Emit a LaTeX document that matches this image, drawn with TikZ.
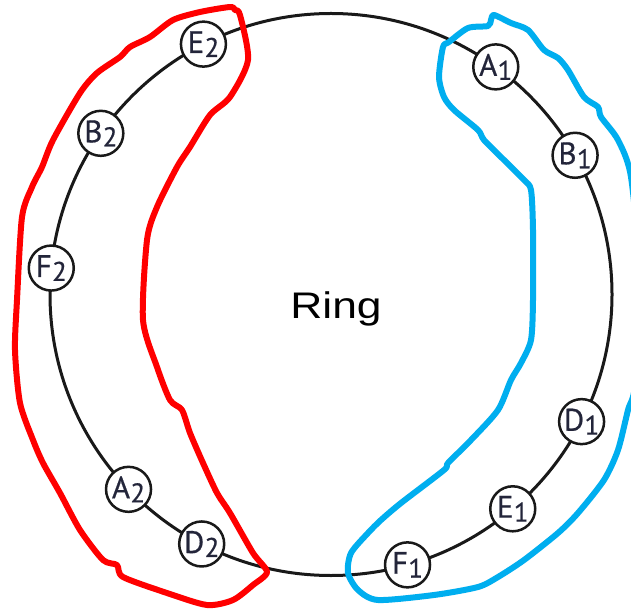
\documentclass[tikz,border=0pt]{standalone}
\usepackage{fontspec}
\usetikzlibrary{calc}
\setmainfont{PT Sans}
\newfontfamily\lblfont{PT Sans}[FakeBold=0.6]
\newfontfamily\ringfont{Liberation Sans}
\definecolor{ringline}{RGB}{25,25,25}
\definecolor{lblcol}{RGB}{35,37,58}
\definecolor{redblob}{RGB}{255,0,0}
\definecolor{blueblob}{RGB}{0,174,239}
\newcommand\lbl[2]{\lblfont\fontsize{31}{31}\selectfont #1\kern0.3pt\raisebox{-4pt}{\fontsize{27}{27}\selectfont #2}}
\tikzset{
  member/.style={circle, draw=ringline, line width=2.5pt, fill=white, minimum size=45pt, inner sep=0pt, text=lblcol},
  ringpath/.style={draw=ringline, line width=3pt},
  blob/.style={line width=6pt, line join=round, line cap=round}
}
\begin{document}
\begin{tikzpicture}[x=1pt,y=1pt]
\useasboundingbox (0,0) rectangle (631,611);
\clip (0,0) rectangle (631,611);
\fill[white] (0,0) rectangle (631,611);
\coordinate (c) at (331,316.5);
\draw[ringpath] (c) circle (281);
\node[font=\ringfont\fontsize{37}{37}\selectfont, anchor=base, inner sep=0pt] (ring) at (336,293) {\scalebox{1.2}[1]{Ring}};
\node[member] (E2) at ($(c)+(117.0:281)$) {\lbl{E}{2}};
\node[member] (B2) at ($(c)+(145.0:281)$) {\lbl{B}{2}};
\node[member] (F2) at ($(c)+(174.6:281)$) {\lbl{F}{2}};
\node[member] (A2) at ($(c)+(223.9:281)$) {\lbl{A}{2}};
\node[member] (D2) at ($(c)+(242.6:281)$) {\lbl{D}{2}};
\node[member] (F1) at ($(c)+(-74.2:281)$) {\lbl{F}{1}};
\node[member] (E1) at ($(c)+(-49.7:281)$) {\lbl{E}{1}};
\node[member] (D1) at ($(c)+(-26.9:281)$) {\lbl{D}{1}};
\node[member] (B1) at ($(c)+(29.7:281)$) {\lbl{B}{1}};
\node[member] (A1) at ($(c)+(54.1:281)$) {\lbl{A}{1}};
\begin{scope}[y=-1pt, yshift=611pt]
\draw[blob, redblob] plot[smooth cycle, tension=0.45] coordinates {
(235,10) (240,15) (248,60) (230,97) (210,115) (190,147) (177,167) (157,207) (147,240) (143,320) (157,367) (170,400) (182,410) (190,433) (203,463) (217,493) (230,513) (253,553) (267,572) (253,585) (233,600) (207,605) (167,593) (123,577) (117,565) (103,560) (80,530) (60,493) (43,463) (33,440) (20,403) (15,350) (17,300) (22,217) (32,187) (42,167) (53,140) (80,93) (97,73) (120,57) (130,47) (150,37) (173,20) (200,12) (230,7)};
\draw[blob, blueblob] plot[smooth cycle, tension=0.45] coordinates {
(494,15) (511,23) (528,30) (544,50) (558,58) (568,70) (584,97) (598,107) (601,117) (618,140) (631,177) (640,280) (635,385) (628,410) (618,450) (604,480) (578,513) (558,533) (524,560) (498,577) (478,587) (434,595) (378,600) (358,590) (348,573) (351,553) (368,533) (381,520) (401,503) (444,470) (448,463) (471,440) (498,410) (511,380) (521,363) (531,340) (533,300) (533,230) (531,190) (524,180) (504,160) (484,140) (478,130) (454,110) (444,97) (439,77) (443,47) (449,42) (468,28) (488,26) (491,20)};
\end{scope}
\end{tikzpicture}
\end{document}
